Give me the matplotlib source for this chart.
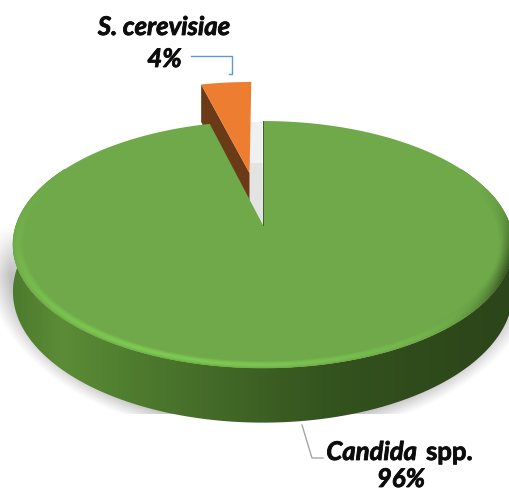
import numpy as np
import matplotlib
matplotlib.use("Agg")
import matplotlib.pyplot as plt
import matplotlib.patheffects as pe
from matplotlib.collections import PolyCollection
from matplotlib.patches import Polygon
from matplotlib.colors import LinearSegmentedColormap, to_rgb

# Chart data
species = ["Candida spp.", "S. cerevisiae"]
shares = [96, 4]
percent_labels = ["96%", "4%"]

# Drawing constants, in pixels of the 509x492 canvas
CX, CY = 263.0, 225.0
AX_X, AX_Y = 246.9, 120.4
PERSP = 0.158
DEPTH = 46.0
EXPLODE = 0.466

W, H = 509, 492
fig = plt.figure(figsize=(W / 100, H / 100), dpi=100)
ax = fig.add_axes([0, 0, 1, 1])
ax.axis("off")


def project(u, v, lift=0.0):
    """Map a point on the unit disc to the tilted view; lift moves it down the wall."""
    w = 1 + PERSP * np.asarray(v)
    return CX + AX_X * np.asarray(u) / w, CY - AX_Y * np.asarray(v) / w + lift / w


def polar(phi_deg, r=1.0, du=0.0, dv=0.0):
    """Unit-disc coordinates for a clockwise angle measured from twelve o'clock."""
    p = np.radians(phi_deg)
    return r * np.sin(p) + du, r * np.cos(p) + dv


def mix(c1, c2, t):
    return tuple((1 - t) * np.array(to_rgb(c1)) + t * np.array(to_rgb(c2)))


# Slice angles follow from the shares
total = sum(shares)
green_end = 360.0 * shares[0] / total
orange_mid = green_end + (360.0 - green_end) / 2

# Soft ground shadow, fading in towards the front and cut off flat at the bottom
yy, xx = np.mgrid[0:H, 0:W]
dist = np.sqrt(((xx - 263.0) / 270.0) ** 2 + ((yy - 262.0) / 172.0) ** 2)
alpha = np.clip((1.03 - dist) / 0.09, 0, 1) ** 1.1 * 0.38
alpha *= np.clip((yy - 225.0) / 50.0, 0, 1)
alpha[yy > 413] = 0
shadow = np.zeros((H, W, 4))
shadow[..., :3] = 0.35
shadow[..., 3] = alpha
ax.imshow(shadow, extent=(0, W, H, 0), zorder=1, aspect="auto", interpolation="bilinear")

# Shadow showing through the gap left by the pulled-out slice
ax.fill([250, 262.5, 262.5, 250], [122, 122, 165, 165], color="#f0f0f0", lw=0, zorder=2)
ax.fill([250, 262.5, 263, 250], [163, 163, 225, 200], color="#e3e3e3", lw=0, zorder=2)

# Pulled-out slice
du, dv = polar(orange_mid, EXPLODE)
arc = np.linspace(green_end, 360, 30)
ou, ov = polar(arc, 1.0, du, dv)
ox, oy = project(ou, ov)
ax0, ay0 = project(du, dv)
wx, wy = project(ou[0], ov[0])
wbx, wby = project(ou[0], ov[0], DEPTH)
abx, aby = project(du, dv, DEPTH)
ax.fill([ax0, wx, wbx, abx], [ay0, wy, wby, aby], color="#6b3a17", lw=0, zorder=3)
ax.fill(np.r_[ax0, ox], np.r_[ay0, oy], color="#ed7d31", lw=0, zorder=4)

# Outer wall of the large slice, shaded from left to right
stops_x = np.array([10, 60, 130, 265, 340, 430, 510])
stops_c = ["#4c7a2c", "#5b8c36", "#4f7d2f", "#3c5f23", "#33521e", "#2f4a1b", "#2c451a"]
wall_cmap = LinearSegmentedColormap.from_list(
    "wall", list(zip((stops_x - 10) / 500.0, stops_c)))
phi = np.linspace(60, 300, 481)
gu, gv = polar(phi)
tx, ty = project(gu, gv)
bx, by = project(gu, gv, DEPTH)
wall_outline = np.column_stack([np.r_[tx, bx[::-1]], np.r_[ty, by[::-1]]])
wall_clip = Polygon(wall_outline, closed=True, transform=ax.transData, fc="none", ec="none")
ax.add_patch(wall_clip)
wall = ax.imshow(np.linspace(0, 1, 500)[None, :], cmap=wall_cmap, extent=(10, 510, 440, 100),
                 aspect="auto", zorder=5, interpolation="bilinear")
wall.set_clip_path(wall_clip)

# Top face of the large slice
TOP = "#6fa94a"
phi = np.linspace(0, green_end, 721)
gu, gv = polar(phi)
tx, ty = project(gu, gv)
ax.fill(np.r_[CX, tx], np.r_[CY, ty], color=TOP, lw=0, zorder=6)


def rim_tone(a):
    """Bevel colour along the edge: bright front-left, dark towards the right."""
    bright = np.exp(-((a - 200.0) / 55.0) ** 2)
    dark = np.exp(-((a - 108.0) / 20.0) ** 2)
    return bright, dark


# Bevel rings running round the front of the top face
rings = np.linspace(1.0, 0.95, 15)
angles = np.linspace(72, 300, 457)
quads, cols = [], []
profile = np.sin(np.linspace(0.35, np.pi, len(rings) - 1)) ** 1.5
for j in range(len(rings) - 1):
    for i in range(len(angles) - 1):
        a0, a1 = angles[i], angles[i + 1]
        p = []
        for a, r in ((a0, rings[j]), (a1, rings[j]), (a1, rings[j + 1]), (a0, rings[j + 1])):
            p.append(project(*polar(a, r)))
        quads.append([(float(x), float(y)) for x, y in p])
        b, d = rim_tone((a0 + a1) / 2)
        c = mix(TOP, "#7fcb52", min(1.0, b * profile[j]))
        c = mix(c, "#2f4a1b", d * (1 - j / (len(rings) - 1)) * 0.9)
        cols.append(c)
ax.add_collection(PolyCollection(quads, facecolors=cols, edgecolors=cols, linewidths=0.4, zorder=7))

# Thin dark seam along the cut faces
sx, sy = project(*polar(0))
ax.plot([CX, sx], [CY, sy], color="#3d5f27", lw=0.7, zorder=8)

# Leader lines
ax.plot([191, 232, 232, 229], [56, 56, 74, 74], color="#5b9bd5", lw=1.0, zorder=9)
ax.plot([302, 312, 323], [425, 458, 458], color="#a6a6a6", lw=1.0, zorder=9)

# Labels
font = dict(family="Lato", weight="bold", color="#0d0d0d", fontsize=18.5, va="center", zorder=10,
            path_effects=[pe.withStroke(linewidth=0.6, foreground="#0d0d0d")])
ax.text(164, 27, species[1], style="italic", ha="center", **font)
ax.text(164.5, 59, percent_labels[1], style="italic", ha="center", **font)
genus, suffix = species[0].split(" ")
ax.text(417, 452, genus, style="italic", ha="right", **font)
ax.text(426, 452, suffix, ha="left", **font)
ax.text(401, 479, percent_labels[0], style="italic", ha="center", **font)

ax.set_xlim(0, W)
ax.set_ylim(H, 0)
fig.savefig("out.png", dpi=100)
